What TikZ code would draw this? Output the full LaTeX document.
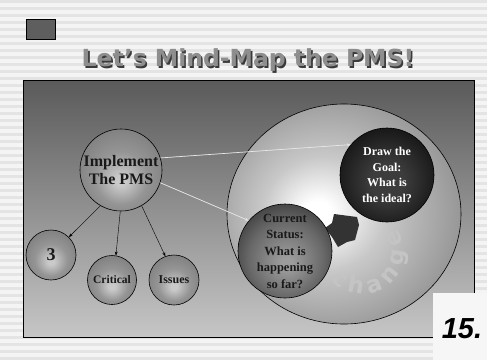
\documentclass[tikz,border=0pt]{standalone}
\usepackage{fontspec}
\setmainfont{Liberation Serif}
\newfontfamily\titlefont{DejaVu Sans}
\newfontfamily\numfont{Liberation Sans}
\usetikzlibrary{positioning, arrows.meta, decorations.text, shadings}

\definecolor{paper}{HTML}{F4F4F4}
\definecolor{stripe}{HTML}{E4E4E4}
\definecolor{boxgray}{HTML}{5E5E5E}
\definecolor{titlegray}{HTML}{8E8E8E}
\definecolor{titleshadow}{HTML}{3A3A3A}
\definecolor{boardtop}{HTML}{5A5A5A}
\definecolor{boardbot}{HTML}{C6C6C6}
\definecolor{blobgray}{HTML}{333333}
\definecolor{ballhi}{HTML}{CACACA}
\definecolor{ballmid}{HTML}{959595}
\definecolor{balllo}{HTML}{555555}
\definecolor{stathi}{HTML}{9C9C9C}
\definecolor{statmid}{HTML}{686868}
\definecolor{statlo}{HTML}{2E2E2E}
\definecolor{goalhi}{HTML}{3C3C3C}
\definecolor{goallo}{HTML}{0C0C0C}
\definecolor{glowmid}{HTML}{C8C8C8}
\definecolor{glowlo}{HTML}{828282}
\definecolor{letterface}{HTML}{C4C4C4}

% shaded spheres, lit from below
\pgfdeclareradialshading{ball}{\pgfpoint{0bp}{-7bp}}{color(0bp)=(ballhi); color(3bp)=(ballhi); color(16bp)=(ballmid); color(28bp)=(ballmid!70!balllo); color(36bp)=(balllo); color(50bp)=(balllo)}
\pgfdeclareradialshading{statball}{\pgfpoint{1bp}{-7bp}}{color(0bp)=(stathi); color(3bp)=(stathi); color(20bp)=(statmid); color(34bp)=(statlo); color(50bp)=(statlo)}
\pgfdeclareradialshading{goalball}{\pgfpoint{0bp}{-4bp}}{color(0bp)=(goalhi); color(9bp)=(goalhi); color(33bp)=(goallo); color(50bp)=(goallo)}
\pgfdeclareradialshading{glow}{\pgfpoint{-6bp}{0bp}}{color(0bp)=(white); color(3bp)=(white); color(13bp)=(glowmid); color(34bp)=(glowlo); color(50bp)=(glowlo)}

\begin{document}
\begin{tikzpicture}[x=1pt, y=1pt,
    ball/.style={circle, draw=black, line width=0.6pt, inner sep=0pt, align=center, font=\bfseries, text=black!90},
    link/.style={-{Stealth[length=4pt,width=3pt]}, line width=0.4pt},
    faint/.style={-{Stealth[length=4pt,width=3pt]}, line width=0.7pt, draw=gray!20, fill=gray!20}]

  \useasboundingbox (0,0) rectangle (487,360);
  % striped paper
  \fill[paper] (0,0) rectangle (487,360);
  \foreach \y in {0,7,...,357}
    \fill[stripe] (0,\y) rectangle (487,\y+3);

  % corner box and heading
  \draw[fill=boxgray, line width=0.6pt] (26,321) rectangle (55,341);
  \node[font=\titlefont\bfseries\fontsize{23.5}{28}\selectfont, text=titleshadow] at (249.6,298.4) {Let’s Mind-Map the PMS!};
  \node[font=\titlefont\bfseries\fontsize{23.5}{28}\selectfont, text=titlegray] (title) at (248,300) {Let’s Mind-Map the PMS!};

  % the board
  \draw[line width=0.8pt, top color=boardtop, bottom color=boardbot] (23,23) rectangle (474,280);

  % big circle with the change cycle
  \draw[line width=0.6pt, shading=glow] (344,146) ellipse [x radius=117, y radius=110];
  \fill[blobgray] (334,146) -- (357,143) -- (359,135) -- (355,120) -- (347,118) -- (338,113) -- (332,123) -- (325,132) -- (332,137) -- cycle;
  \path[decorate, decoration={text along path, text align=fit to path,
      text={|\titlefont\bfseries\fontsize{23}{23}\selectfont\color{letterface}|change}}]
    (362,108) ++(222:42) arc[start angle=222, end angle=392, radius=42];

  \node[ball, shading=ball, minimum size=82pt, font=\bfseries\fontsize{16}{18}\selectfont] (impl) at (121,190) {Implement\\The PMS};
  \node[ball, shading=ball, minimum size=50pt, font=\bfseries\fontsize{18}{18}\selectfont] (three) at (51,105) {3};
  \node[ball, shading=ball, minimum size=49pt, font=\bfseries\fontsize{11.5}{12}\selectfont] (crit) at (112,80) {Critical};
  \node[ball, shading=ball, minimum size=50pt, font=\bfseries\fontsize{12}{12}\selectfont] (issues) at (174,80) {Issues};
  \node[ball, shading=statball, minimum size=94pt, font=\bfseries\fontsize{12.5}{16.5}\selectfont] (status) at (285,109) {Current\\Status:\\What is\\happening\\so far?};
  \node[ball, shading=goalball, minimum size=94pt, text=white, font=\bfseries\fontsize{12}{15.5}\selectfont] (goal) at (387,185) {Draw the\\Goal:\\What is\\the ideal?};

  \draw[link] (impl.240) -- (three.45);
  \draw[link] (impl.269) -- (crit.81);
  \draw[link] (impl.300) -- (issues.110);
  \draw[faint] (impl.17) -- (goal.140);
  \draw[faint] (impl.-18) -- (status.140);

  % slide number
  \fill[paper!80!white] (433,0) rectangle (487,67);
  \node[font=\numfont\bfseries\itshape\fontsize{29}{29}\selectfont] (num) at (462,31) {15.};
\end{tikzpicture}
\end{document}
